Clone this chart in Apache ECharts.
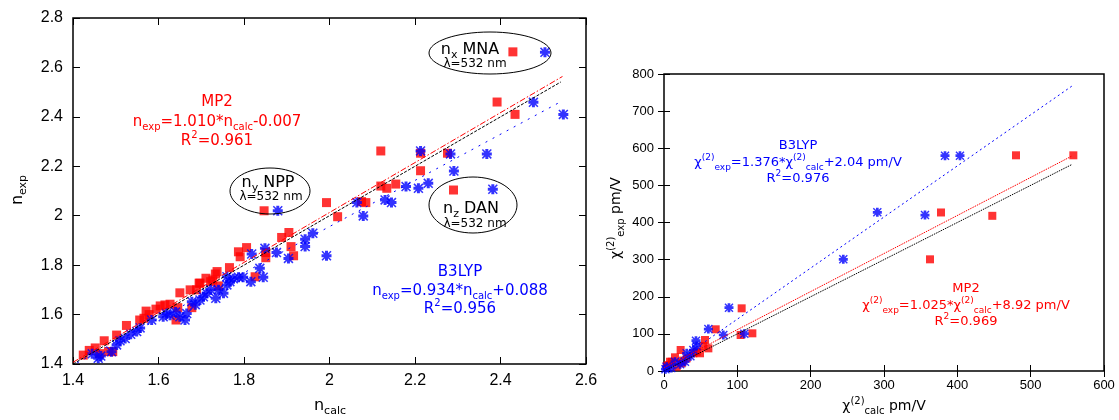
<!DOCTYPE html>
<html>
<head>
<meta charset="utf-8">
<script src="https://cdn.jsdelivr.net/npm/echarts@6/dist/echarts.min.js"></script>
<style>
  html, body { margin: 0; padding: 0; background: #fff; }
  #chart { width: 1119px; height: 420px; }
</style>
</head>
<body>
<div id="chart"></div>
<script>
// Refractive indices: MP2 (squares) and B3LYP (asterisks), calculated vs experimental
const mp2Calc = [1.424,1.438,1.452,1.462,1.473,1.483,1.493,1.502,1.525,1.556,1.566,1.571,1.578,1.594,1.604,1.615,1.627,1.641,1.650,1.645,1.674,1.678,1.695,1.711,1.727,1.733,1.740,1.689,1.697,1.722,1.766,1.737,1.787,1.806,1.791,1.826,1.851,1.851,1.888,1.905,1.910,1.916,1.847,1.993,2.019,2.075,2.085,2.120,2.134,2.155,2.120,2.213,2.213,2.276,2.290,2.392,2.434,2.429];
const mp2Exp  = [1.436,1.455,1.465,1.442,1.494,1.450,1.450,1.517,1.556,1.578,1.585,1.614,1.600,1.622,1.635,1.639,1.642,1.578,1.688,1.628,1.700,1.628,1.727,1.747,1.740,1.764,1.716,1.700,1.727,1.733,1.790,1.774,1.854,1.871,1.834,1.753,1.830,1.851,1.912,1.932,1.875,1.838,2.020,2.053,1.996,2.057,2.053,2.120,2.111,2.128,2.262,2.182,2.253,2.253,2.104,2.460,2.410,2.663];

const b3Calc = [1.459,1.445,1.465,1.490,1.502,1.510,1.522,1.535,1.549,1.557,1.584,1.611,1.619,1.627,1.650,1.662,1.666,1.678,1.697,1.705,1.713,1.734,1.740,1.752,1.767,1.760,1.787,1.798,1.816,1.837,1.845,1.818,1.849,1.876,1.904,1.943,1.943,1.961,1.993,1.879,2.064,2.079,2.130,2.145,2.179,2.208,2.231,2.291,2.213,2.283,2.368,2.382,2.477,2.547,2.504,1.640,1.686,1.722,1.775,1.760];
const b3Exp  = [1.423,1.441,1.432,1.450,1.477,1.494,1.503,1.520,1.531,1.546,1.578,1.591,1.604,1.597,1.591,1.578,1.604,1.652,1.659,1.672,1.686,1.666,1.700,1.686,1.733,1.753,1.751,1.751,1.733,1.787,1.751,1.845,1.868,1.851,1.827,1.875,1.905,1.929,1.838,2.020,2.053,1.999,2.064,2.053,2.118,2.111,2.131,2.181,2.262,2.250,2.250,2.107,2.459,2.410,2.661,1.610,1.640,1.700,1.745,1.720];

// Second-order susceptibilities chi(2), pm/V
const chiMp2Calc = [558.2,480,377.7,447.7,362.7,105.9,70.5,104.5,120.5,55.9,53.6,60.5,44.5,49.1,40,22.7,15,24.1,30.9,8.2,3.6,17.3,5.9,10.5,26];
const chiMp2Exp  = [581,581,427,418,300.8,168.8,112.3,97,101.5,83.5,67.3,61,52,47.7,47.7,56.6,36.9,20.7,34.2,25,13.5,11.6,16,25,28];
const chiB3Calc  = [383.2,403.6,290.9,355.9,244.5,88.6,60.5,80.9,109.5,43.6,44.5,40,30.9,28.6,15,3.6,22,10,2,36];
const chiB3Exp   = [580,580,427.4,420,300.8,170.5,113,97,100.5,81.6,67.3,56.5,47.7,25,25,11.6,18,8,5,40];

// Linear fits stated in the annotations: [slope, intercept]
const nFitMp2 = [1.010, -0.007];
const nFitB3  = [0.934, 0.088];
const nFitIdeal = [1, 0];
const chiFitMp2 = [1.025, 8.92];
const chiFitB3  = [1.376, 2.04];
const chiFitIdeal = [1, 0];
const nFitRange = [1.41, 2.545];
const chiFitRange = [0, 556];

// Tick settings
const nXTicks = [1.4, 2.6, 0.2];
const nYTicks = [1.4, 2.8, 0.2];
const chiXTicks = [0, 600, 100];
const chiYTicks = [0, 800, 100];

const RED = '#ff0000';
const BLUE = '#0000ff';
// eight-armed asterisk (plus + cross), all sub-paths wound the same way
const ASTERISK = 'path://M0,3.5L10,3.5L10,6.5L0,6.5Z M3.5,0L6.5,0L6.5,10L3.5,10Z M1.1,0L10,8.9L8.9,10L0,1.1Z M8.9,0L10,1.1L1.1,10L0,8.9Z';

function zip(a, b) { return a.map((v, i) => [v, b[i]]); }
function fitLine(fit, range) { return range.map(x => [x, fit[0] * x + fit[1]]); }

function mainAxis(gridIndex, pos, t, fs, margin, tickLen) {
  return {
    gridIndex, position: pos, type: 'value', min: t[0], max: t[1], interval: t[2],
    axisLine: { show: false },
    axisTick: { show: true, inside: true, length: tickLen, lineStyle: { color: '#000', width: 1 } },
    axisLabel: { show: true, color: '#000', fontSize: fs, fontFamily: 'Liberation Sans', margin: margin },
    splitLine: { show: false }
  };
}
function mirrorAxis(gridIndex, pos, t, tickLen) {
  return {
    gridIndex, position: pos, type: 'value', min: t[0], max: t[1], interval: t[2],
    axisLine: { show: false },
    axisTick: { show: true, inside: true, length: tickLen, lineStyle: { color: '#000', width: 1 } },
    axisLabel: { show: false },
    splitLine: { show: false }
  };
}

const ANN = 'DejaVu Sans';
function richSet(fs, color) {
  return {
    t: { fontSize: fs, fontFamily: ANN, fill: color, lineHeight: fs + 6, verticalAlign: 'middle' },
    sub: { fontSize: Math.round(fs * 0.68), fontFamily: ANN, fill: color, lineHeight: Math.round(fs * 0.68), verticalAlign: 'bottom' },
    sup: { fontSize: Math.round(fs * 0.68), fontFamily: ANN, fill: color, lineHeight: Math.round(fs * 0.68), verticalAlign: 'top' }
  };
}
function label(x, y, text, fs, color, extra) {
  return Object.assign({
    type: 'text', x: x, y: y, z: 100,
    style: { text: text, rich: richSet(fs, color), fill: color, align: 'center', verticalAlign: 'middle', font: fs + 'px ' + ANN }
  }, extra || {});
}
function ellipse(cx, cy, rx, ry) {
  return { type: 'ellipse', z: 90, shape: { cx, cy, rx, ry }, style: { fill: 'none', stroke: '#000', lineWidth: 1 } };
}

const chart = echarts.init(document.getElementById('chart'), null, { renderer: 'canvas' });

chart.setOption({
  backgroundColor: '#fff',
  animation: false,
  grid: [
    { left: 73, top: 18, width: 513, height: 346, show: true, borderColor: '#000', borderWidth: 1.5, backgroundColor: 'transparent' },
    { left: 664, top: 74, width: 440, height: 297, show: true, borderColor: '#000', borderWidth: 1.5, backgroundColor: 'transparent' }
  ],
  xAxis: [
    mainAxis(0, 'bottom', nXTicks, 16, 9, 7),
    mirrorAxis(0, 'top', nXTicks, 7),
    mainAxis(1, 'bottom', chiXTicks, 13, 8, 6),
    mirrorAxis(1, 'top', chiXTicks, 6)
  ],
  yAxis: [
    mainAxis(0, 'left', nYTicks, 16, 10, 7),
    mirrorAxis(0, 'right', nYTicks, 7),
    mainAxis(1, 'left', chiYTicks, 13, 10, 6),
    mirrorAxis(1, 'right', chiYTicks, 6)
  ],
  series: [
    { name: 'MP2', type: 'scatter', xAxisIndex: 0, yAxisIndex: 0, data: zip(mp2Calc, mp2Exp), symbol: 'rect', symbolSize: 9, itemStyle: { color: RED } },
    { name: 'B3LYP', type: 'scatter', xAxisIndex: 0, yAxisIndex: 0, data: zip(b3Calc, b3Exp), symbol: ASTERISK, symbolSize: 10, itemStyle: { color: BLUE } },
    { name: 'ideal', type: 'line', xAxisIndex: 0, yAxisIndex: 0, data: fitLine(nFitIdeal, [1.4, 2.541]), showSymbol: false, symbol: 'none', lineStyle: { color: '#000', width: 1, type: [3, 1.5] } },
    { name: 'MP2 fit', type: 'line', xAxisIndex: 0, yAxisIndex: 0, data: fitLine(nFitMp2, [1.4, nFitRange[1]]), showSymbol: false, symbol: 'none', lineStyle: { color: RED, width: 1, type: [6, 2, 1.5, 2] } },
    { name: 'B3LYP fit', type: 'line', xAxisIndex: 0, yAxisIndex: 0, data: fitLine(nFitB3, nFitRange), showSymbol: false, symbol: 'none', lineStyle: { color: BLUE, width: 1, type: [2, 6] } },

    { name: 'MP2 chi', type: 'scatter', xAxisIndex: 2, yAxisIndex: 2, data: zip(chiMp2Calc, chiMp2Exp), symbol: 'rect', symbolSize: 8, itemStyle: { color: RED } },
    { name: 'B3LYP chi', type: 'scatter', xAxisIndex: 2, yAxisIndex: 2, data: zip(chiB3Calc, chiB3Exp), symbol: ASTERISK, symbolSize: 9, itemStyle: { color: BLUE } },
    { name: 'ideal chi', type: 'line', xAxisIndex: 2, yAxisIndex: 2, data: fitLine(chiFitIdeal, chiFitRange), showSymbol: false, symbol: 'none', lineStyle: { color: '#000', width: 1, type: [1.5, 1] } },
    { name: 'MP2 chi fit', type: 'line', xAxisIndex: 2, yAxisIndex: 2, data: fitLine(chiFitMp2, chiFitRange), showSymbol: false, symbol: 'none', lineStyle: { color: RED, width: 1, type: [1.5, 1] } },
    { name: 'B3LYP chi fit', type: 'line', xAxisIndex: 2, yAxisIndex: 2, data: fitLine(chiFitB3, chiFitRange), showSymbol: false, symbol: 'none', lineStyle: { color: BLUE, width: 1, type: [2, 3] } }
  ],
  graphic: [
    // axis titles
    label(330, 406, '{t|n}{sub|calc}', 16, '#000'),
    label(18, 190, '{t|n}{sub|exp}', 16, '#000', { rotation: Math.PI / 2 }),
    label(884, 406, '{t|χ}{sup|(2)}{sub|calc}{t| pm/V}', 14, '#000'),
    label(616, 218, '{t|χ}{sup|(2)}{sub|exp}{t| pm/V}', 14, '#000', { rotation: Math.PI / 2 }),

    // left panel fit annotations
    label(217, 102, '{t|MP2}', 15, RED),
    label(217, 122, '{t|n}{sub|exp}{t|=1.010*n}{sub|calc}{t|-0.007}', 15, RED),
    label(217, 141, '{t|R}{sup|2}{t|=0.961}', 15, RED),
    label(460, 272, '{t|B3LYP}', 15, BLUE),
    label(460, 291, '{t|n}{sub|exp}{t|=0.934*n}{sub|calc}{t|+0.088}', 15, BLUE),
    label(460, 309, '{t|R}{sup|2}{t|=0.956}', 15, BLUE),

    // molecule labels
    ellipse(490, 53, 61, 21),
    label(470, 50, '{t|n}{sub|x}{t| MNA}', 16, '#000'),
    label(475, 64, '{t|λ=532 nm}', 12, '#000'),
    ellipse(270, 191, 40, 23),
    label(268, 183, '{t|n}{sub|y}{t| NPP}', 16, '#000'),
    label(271, 197, '{t|λ=532 nm}', 12, '#000'),
    ellipse(473, 205, 44, 28),
    label(471, 209, '{t|n}{sub|z}{t| DAN}', 16, '#000'),
    label(475, 224, '{t|λ=532 nm}', 12, '#000'),

    // right panel fit annotations
    label(798, 146, '{t|B3LYP}', 13, BLUE),
    label(798, 163, '{t|χ}{sup|(2)}{sub|exp}{t|=1.376*χ}{sup|(2)}{sub|calc}{t|+2.04 pm/V}', 13, BLUE),
    label(798, 179, '{t|R}{sup|2}{t|=0.976}', 13, BLUE),
    label(966, 289, '{t|MP2}', 13, RED),
    label(966, 306, '{t|χ}{sup|(2)}{sub|exp}{t|=1.025*χ}{sup|(2)}{sub|calc}{t|+8.92 pm/V}', 13, RED),
    label(966, 322, '{t|R}{sup|2}{t|=0.969}', 13, RED)
  ]
});
</script>
</body>
</html>
